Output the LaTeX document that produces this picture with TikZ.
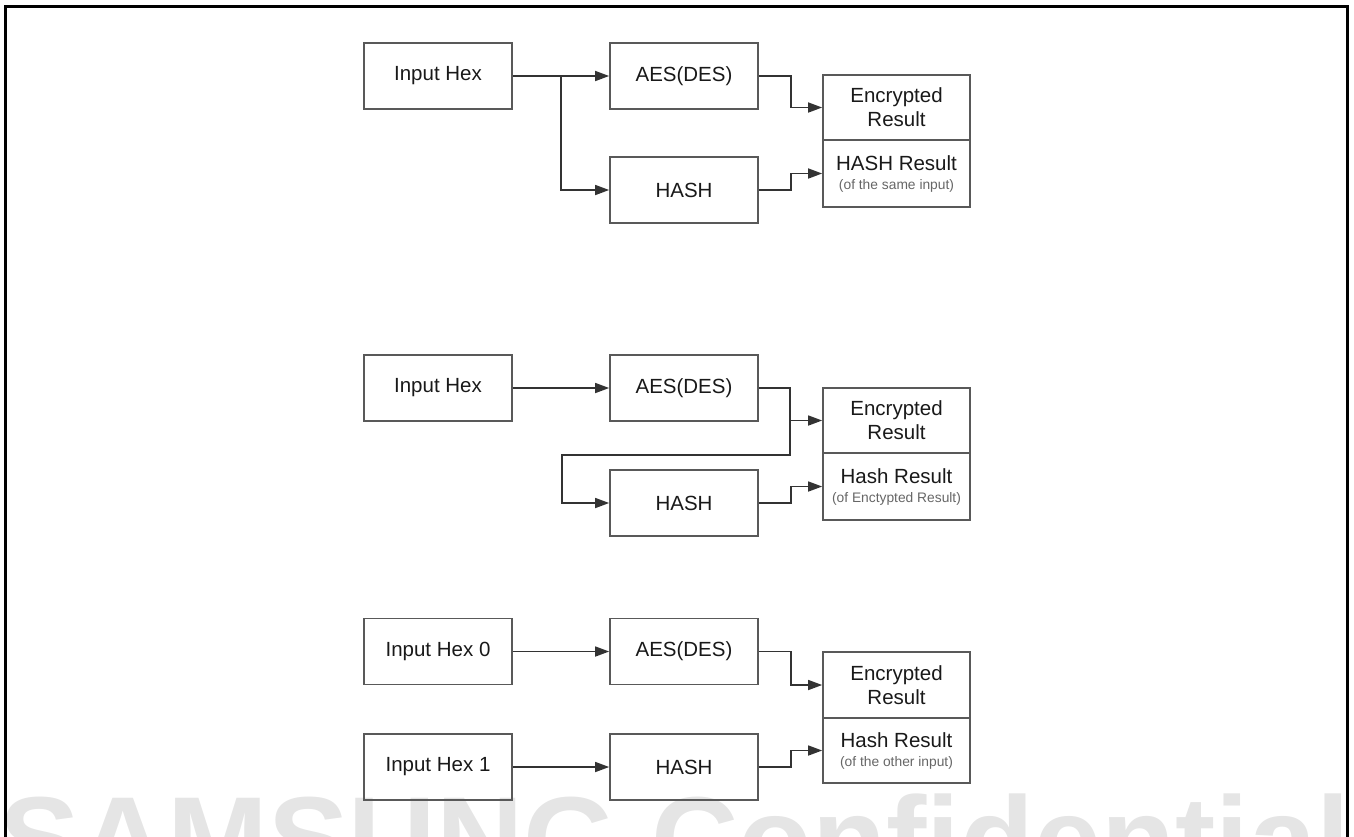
\documentclass[tikz,border=0pt]{standalone}
\usepackage{fontspec}
\setmainfont{Liberation Sans}
\usetikzlibrary{arrows.meta}
\begin{document}
\begin{tikzpicture}[x=1pt,y=-1pt,
  box/.style={draw=black!65, line width=1.7pt, minimum width=148pt,
    minimum height=66pt, inner sep=0pt, text=black!90, align=center,
    font=\fontsize{20.5}{24}\selectfont},
  part/.style={box, minimum width=147pt, minimum height=65pt},
  flow/.style={draw=black!80, line width=1.6pt},
  arr/.style={flow, -{Triangle[length=14pt,width=10pt]}},
  note/.style={font=\fontsize{13.8}{15}\selectfont, text=black!60}
]
\useasboundingbox (0,0) rectangle (1354,836);
\clip (0,0) rectangle (1354,836);

% watermark along the bottom edge
\node[anchor=base west, inner sep=0pt, text=black!10,
  font=\fontsize{121}{121}\selectfont\bfseries] (mark) at (-1,881)
  {SAMSUNG Confidential};

% page frame, open at the bottom
\draw[line width=3pt] (5,845) -- (5,6) -- (1347,6) -- (1347,845);

% ---- scheme 1: same input to cipher and hash
\node[box] (in1)   at (438,76)  {Input Hex};
\node[box] (aes1)  at (684,76)  {AES(DES)};
\node[box] (hash1) at (684,190) {HASH};
\node[part] (enc1)  at (896.5,107.5) {Encrypted\\Result};
\node[part, minimum height=67pt] (hres1) at (896.5,173.5)
  {HASH Result\\[-5pt]{\fontsize{13.8}{15}\selectfont\color{black!60}(of the same input)}};
\coordinate (j1) at (561,76);
\draw[arr] (in1.east) -- (aes1.west);
\draw[arr] (j1) |- (hash1.west);
\draw[arr] (aes1.east) -- ++(32,0) |- (enc1.west);
\draw[arr] (hash1.east) -- ++(32,0) |- (hres1.west);

% ---- scheme 2: hash of the encrypted result
\node[box] (in2)   at (438,388) {Input Hex};
\node[box] (aes2)  at (684,388) {AES(DES)};
\node[box] (hash2) at (684,503) {HASH};
\node[part] (enc2)  at (896.5,420.5) {Encrypted\\Result};
\node[part, minimum height=67pt] (hres2) at (896.5,486.5)
  {Hash Result\\[-5pt]{\fontsize{13.8}{15}\selectfont\color{black!60}(of Enctypted Result)}};
\coordinate (t2) at (790,455);
\coordinate (u2) at (562,455);
\draw[arr] (in2.east) -- (aes2.west);
\draw[arr] (aes2.east) -| (t2) -- (u2) |- (hash2.west);
\draw[arr] (t2 |- enc2.west) -- (enc2.west);
\draw[arr] (hash2.east) -- ++(32,0) |- (hres2.west);

% ---- scheme 3: two separate inputs
\node[box] (in3a)  at (438,651.5) {Input Hex 0};
\node[box] (aes3)  at (684,651.5) {AES(DES)};
\node[box] (in3b)  at (438,767)   {Input Hex 1};
\node[box] (hash3) at (684,767)   {HASH};
\node[part, minimum height=66pt] (enc3) at (896.5,685) {Encrypted\\Result};
\node[part] (hres3) at (896.5,750.5)
  {Hash Result\\[-5pt]{\fontsize{13.8}{15}\selectfont\color{black!60}(of the other input)}};
\draw[arr] (in3a.east) -- (aes3.west);
\draw[arr] (in3b.east) -- (hash3.west);
\draw[arr] (aes3.east) -- ++(32,0) |- (enc3.west);
\draw[arr] (hash3.east) -- ++(32,0) |- (hres3.west);
\end{tikzpicture}
\end{document}
